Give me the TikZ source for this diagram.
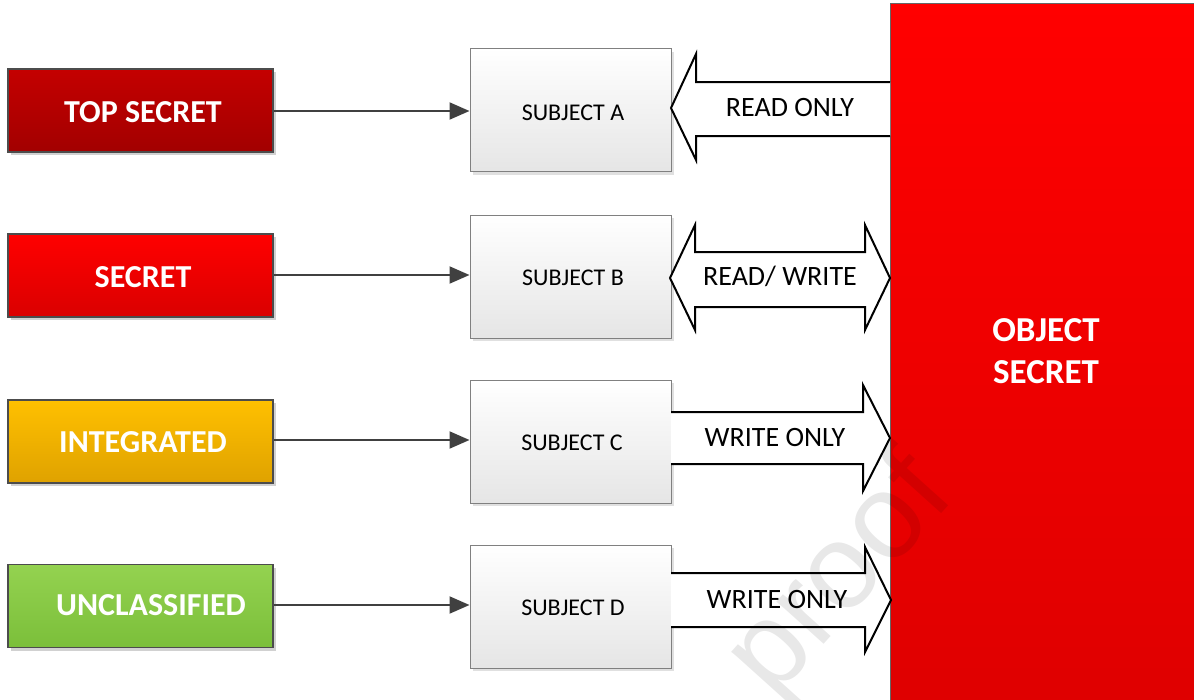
\documentclass[tikz,border=0pt]{standalone}
\usepackage{fontspec}
\setmainfont{Carlito}
\newfontfamily\markfont{Liberation Sans}
\usetikzlibrary{arrows.meta,shadows}

\definecolor{tsTop}{HTML}{C40000}
\definecolor{tsBot}{HTML}{A20000}
\definecolor{seTop}{HTML}{FF0000}
\definecolor{seBot}{HTML}{DA0000}
\definecolor{inTop}{HTML}{FFC000}
\definecolor{inBot}{HTML}{DFA200}
\definecolor{unTop}{HTML}{94D250}
\definecolor{unBot}{HTML}{7BBF3A}
\definecolor{obTop}{HTML}{FF0000}
\definecolor{obBot}{HTML}{DF0000}
\definecolor{linkgray}{HTML}{404040}

\tikzset{
  level/.style={rectangle, draw=black!70, line width=1.2pt, inner sep=0pt,
    minimum width=265pt, minimum height=83pt,
    drop shadow={shadow xshift=3pt, shadow yshift=-3pt, fill=black!18, opacity=1}},
  levellabel/.style={text=white, font=\fontsize{32}{38}\selectfont\bfseries, inner sep=0pt},
  subject/.style={rectangle, draw=black!50, line width=1pt, inner sep=0pt,
    minimum width=201pt, minimum height=123pt, top color=white, bottom color=black!10,
    drop shadow={shadow xshift=3pt, shadow yshift=-3pt, fill=black!12, opacity=1}},
  subjectlabel/.style={font=\fontsize{24}{29}\selectfont, inner sep=0pt},
  link/.style={draw=linkgray, line width=2pt, -{Triangle[length=20pt,width=17pt]}},
  blockarrow/.style={draw=black, line width=2pt, fill=white, line join=miter},
  arrowlabel/.style={font=\fontsize{28}{33}\selectfont, inner sep=0pt},
}

\begin{document}
\begin{tikzpicture}[x=1pt,y=-1pt]
\useasboundingbox (0,0) rectangle (1194,699);

% classification levels
\node[level, top color=tsTop, bottom color=tsBot] (ts) at (140.5,110.5) {};
\node[level, top color=seTop, bottom color=seBot] (se) at (140.5,275.5) {};
\node[level, top color=inTop, bottom color=inBot] (in) at (140.5,441.5) {};
\node[level, top color=unTop, bottom color=unBot] (un) at (140.5,606) {};
\node[levellabel] (tsl) at (143,112) {TOP SECRET};
\node[levellabel] (sel) at (143,277) {SECRET};
\node[levellabel] (inl) at (143,442) {INTEGRATED};
\node[levellabel] (unl) at (151,605) {UNCLASSIFIED};

% subjects
\node[subject] (sa) at (570.5,110) {};
\node[subject] (sb) at (570.5,276.5) {};
\node[subject] (sc) at (570.5,441.5) {};
\node[subject] (sd) at (570.5,606.5) {};
\node[subjectlabel] (sal) at (573,113) {SUBJECT A};
\node[subjectlabel] (sbl) at (573,278) {SUBJECT B};
\node[subjectlabel] (scl) at (572,443) {SUBJECT C};
\node[subjectlabel] (sdl) at (573,608) {SUBJECT D};

% level -> subject links
\draw[link] (ts.east |- 0,111) -- (sa.west |- 0,111);
\draw[link] (se.east |- 0,275) -- (sb.west |- 0,275);
\draw[link] (in.east |- 0,440) -- (sc.west |- 0,440);
\draw[link] (un.east |- 0,605) -- (sd.west |- 0,605);

% object
\node[rectangle, draw=black!60, line width=1pt, top color=obTop, bottom color=obBot,
  minimum width=310pt, minimum height=697pt, inner sep=0pt, anchor=north west] (obj) at (890,3) {};
\node[text=white, font=\fontsize{35}{42}\selectfont\bfseries, align=center, inner sep=0pt]
  (objl) at (1046,351) {OBJECT\\SECRET};

% access arrows between subjects and object
\draw[blockarrow] (890,82) -- (696,82) -- (696,54) -- (671,108) -- (696,160) -- (696,136) -- (890,136);
\node[arrowlabel] (ra) at (790,108) {READ ONLY};

\draw[blockarrow] (695,252) -- (865,252) -- (865,225) -- (890,278) -- (865,330) -- (865,307)
  -- (695,307) -- (695,330) -- (670,278) -- (695,225) -- cycle;
\node[arrowlabel] (rb) at (780,276) {READ/ WRITE};

\draw[blockarrow] (671,412) -- (863,412) -- (863,385) -- (890,438) -- (863,491) -- (863,464) -- (671,464);
\node[arrowlabel] (rc) at (775,438) {WRITE ONLY};

\draw[blockarrow] (671,573) -- (865,573) -- (865,547) -- (891,600) -- (865,652) -- (865,627) -- (671,627);
\node[arrowlabel] (rd) at (777,600) {WRITE ONLY};

% watermark
\node[text=black, opacity=0.09, rotate=48, font=\markfont\fontsize{120}{120}\selectfont, inner sep=0pt]
  (mark) at (842,578) {proof};
\end{tikzpicture}
\end{document}
